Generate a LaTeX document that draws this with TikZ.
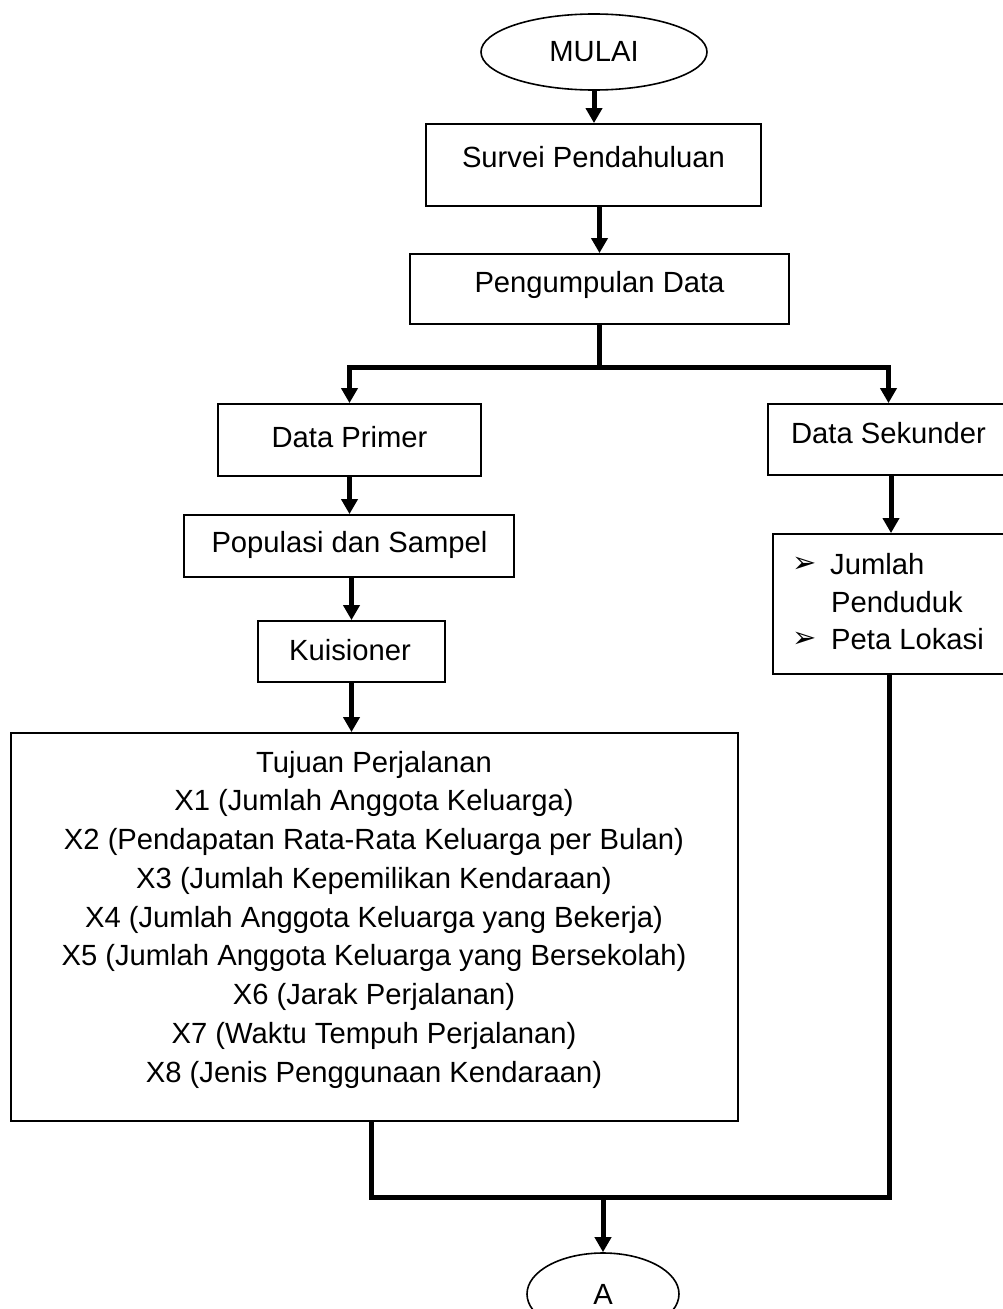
\documentclass[tikz,border=0pt]{standalone}
\usepackage{fontspec}
\setmainfont{Liberation Sans}
\newfontfamily\dejavu{DejaVu Sans}
\usetikzlibrary{shapes.geometric,arrows.meta}
\begin{document}
\begin{tikzpicture}[x=1pt,y=-1pt,
  box/.style={draw, line width=1.8pt, rectangle, inner sep=0pt},
  oval/.style={draw, line width=1.6pt, ellipse, inner sep=0pt, font=\fontsize{29.2}{38.75}\selectfont},
  txt/.style={inner sep=0pt, anchor=base, font=\fontsize{29.2}{38.75}\selectfont},
  ltxt/.style={inner sep=0pt, anchor=base west, font=\fontsize{29.2}{38.75}\selectfont},
  bul/.style={inner sep=0pt, font=\dejavu\fontsize{29}{32}\selectfont},
  conn/.style={line width=5pt, -{Triangle[width=16pt,length=15pt]}},
  wire/.style={line width=5pt},
]
\useasboundingbox (0,0) rectangle (1003,1309);
\clip (0,0) rectangle (1003,1309);

% shapes
\node[oval, minimum width=226pt, minimum height=76pt] (mulai) at (594,52) {MULAI};
\node[box, minimum width=335pt, minimum height=82pt] (survei) at (593.5,165) {};
\node[box, minimum width=379pt, minimum height=70pt] (kumpul) at (599.5,289) {};
\node[box, minimum width=263pt, minimum height=72pt] (primer) at (349.5,440) {};
\node[box, minimum width=241pt, minimum height=71pt] (sekunder) at (888.5,439.5) {};
\node[box, minimum width=330pt, minimum height=62pt] (populasi) at (349,546) {};
\node[box, minimum width=187pt, minimum height=61pt] (kuisioner) at (351.5,651.5) {};
\node[box, minimum width=727pt, minimum height=388pt] (big) at (374.5,927) {};
\node[box, minimum width=236pt, minimum height=140pt] (bullet) at (891,604) {};
\node[oval, minimum width=152pt, minimum height=82pt] (a) at (603,1294) {A};

% texts
\node[txt] (survei-t) at (593.5,167) {Survei Pendahuluan};
\node[txt] (kumpul-t) at (599.5,292) {Pengumpulan Data};
\node[txt] (primer-t) at (349.5,447) {Data Primer};
\node[txt] (sekunder-t) at (888.5,443) {Data Sekunder};
\node[txt] (populasi-t) at (349.5,552) {Populasi dan Sampel};
\node[txt] (kuisioner-t) at (350,660) {Kuisioner};
\foreach \s [count=\i] in {Tujuan Perjalanan,
  X1 (Jumlah Anggota Keluarga),
  X2 (Pendapatan Rata-Rata Keluarga per Bulan),
  X3 (Jumlah Kepemilikan Kendaraan),
  X4 (Jumlah Anggota Keluarga yang Bekerja),
  X5 (Jumlah Anggota Keluarga yang Bersekolah),
  X6 (Jarak Perjalanan),
  X7 (Waktu Tempuh Perjalanan),
  X8 (Jenis Penggunaan Kendaraan)}
  \node[txt] (line\i) at (374,{772+38.75*(\i-1)}) {\s};
\node[bul] (b1) at (804.5,565) {➢};
\node[ltxt] (jumlah) at (830,574) {Jumlah};
\node[ltxt] (penduduk) at (831,612) {Penduduk};
\node[bul] (b2) at (804.5,640) {➢};
\node[ltxt] (peta) at (831,649) {Peta Lokasi};

% connectors
\draw[conn] (mulai.south) -- (mulai.south |- survei.north);
\draw[conn] (kumpul.north |- survei.south) -- (kumpul.north);
\coordinate (split) at (599.5,367);
\draw[wire] (kumpul.south) -- (split);
\draw[conn] (split) -| (primer.north);
\draw[conn] (split) -| (sekunder.north);
\draw[conn] (primer.south) -- (primer.south |- populasi.north);
\draw[conn] (kuisioner.north |- populasi.south) -- (kuisioner.north);
\draw[conn] (kuisioner.south) -- (kuisioner.south |- big.north);
\draw[conn] (bullet.north |- sekunder.south) -- (bullet.north);
\coordinate (m1) at (371,1197);
\coordinate (m2) at (889,1197);
\coordinate (m0) at (603,1197);
\draw[wire] (m1 |- big.south) -- (m1) -- (m2) -- (m2 |- bullet.south);
\draw[conn] (m0) -- (a.north);
\end{tikzpicture}
\end{document}
